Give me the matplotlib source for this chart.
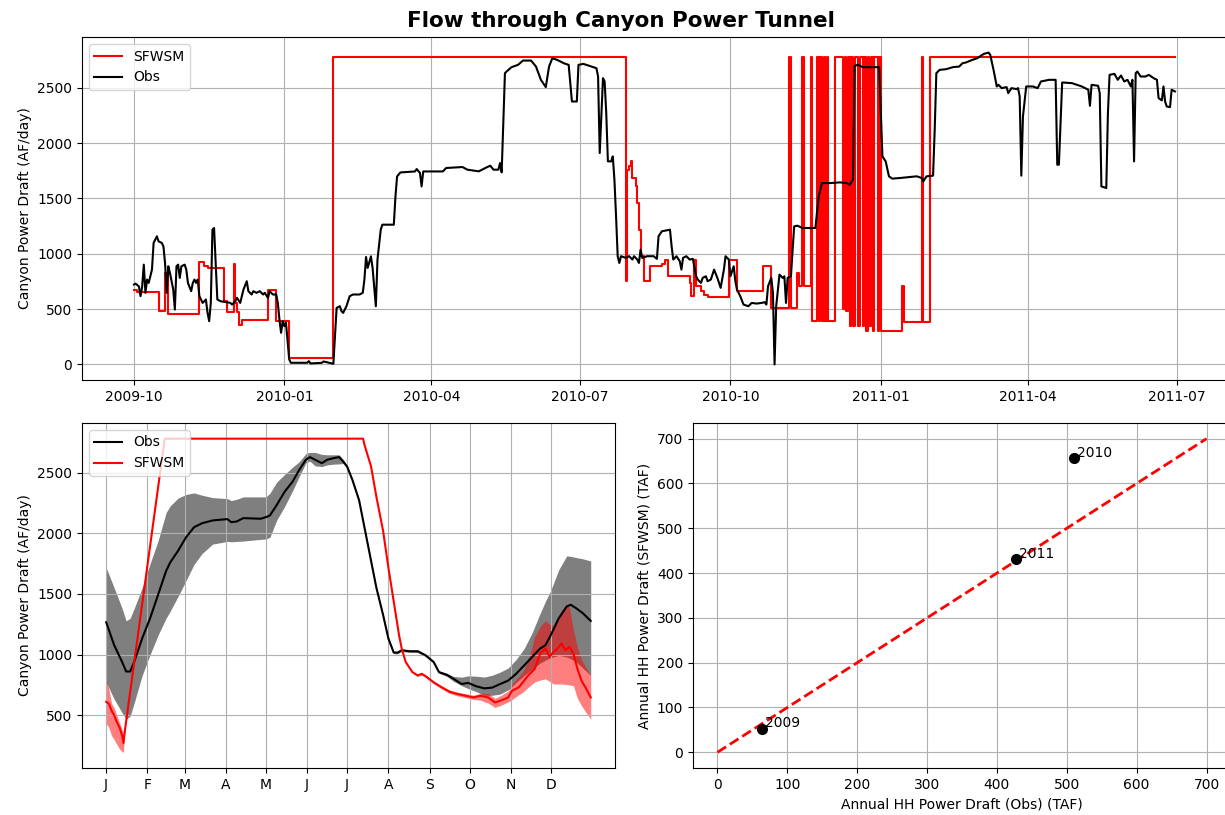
import pandas as pd
import matplotlib
matplotlib.use("Agg")
import matplotlib.pyplot as plt
import matplotlib.dates as mdates
from matplotlib.ticker import FuncFormatter

START = "2009-10-01"

# observed daily flow, day offsets counted from START
obs_day = [0, 1, 3, 4, 5, 6, 7, 8, 9, 10, 11, 12, 14, 15, 17, 18, 19, 20, 21, 22, 24, 25, 26, 27,
           28, 29, 31, 32, 33, 35, 36, 37, 38, 39, 40, 42, 44, 45, 46, 47, 48, 49, 50, 51, 53, 57,
           59, 60, 62, 63, 65, 67, 69, 70, 72, 73, 75, 77, 79, 80, 82, 83, 85, 87, 88, 89, 90, 91,
           92, 93, 94, 95, 96, 106, 107, 108, 115, 116, 122, 124, 126, 127, 128, 130, 132, 134,
           138, 140, 141, 142, 143, 145, 146, 148, 149, 151, 152, 159, 160, 161, 163, 172, 173,
           175, 176, 177, 189, 191, 201, 204, 207, 211, 215, 218, 220, 223, 224, 225, 227, 228,
           231, 235, 238, 243, 246, 249, 252, 254, 256, 259, 263, 266, 268, 271, 272, 275, 280,
           283, 284, 285, 287, 288, 289, 290, 292, 293, 294, 295, 296, 297, 298, 301, 303, 305,
           306, 308, 309, 310, 311, 314, 318, 320, 321, 323, 328, 329, 330, 332, 334, 335, 336,
           338, 340, 342, 344, 345, 347, 348, 350, 351, 353, 355, 357, 359, 361, 362, 364, 365,
           367, 368, 369, 371, 373, 376, 378, 381, 384, 386, 387, 388, 390, 391, 392, 393, 395,
           397, 398, 399, 400, 402, 404, 406, 409, 413, 417, 419, 421, 426, 432, 436, 438, 440,
           441, 443, 446, 451, 456, 457, 458, 460, 462, 464, 469, 475, 479, 482, 483, 485, 489,
           490, 491, 493, 497, 501, 505, 507, 509, 513, 516, 520, 523, 524, 526, 528, 529, 531,
           534, 535, 537, 540, 541, 542, 543, 544, 546, 550, 553, 555, 560, 564, 565, 566, 568,
           574, 580, 584, 585, 586, 590, 591, 592, 595, 596, 597, 600, 602, 604, 606, 608, 610,
           611, 612, 613, 614, 616, 619, 621, 624, 626, 627, 629, 630, 631, 632, 634, 635, 637]
obs_flow = [722, 730, 705, 617, 705, 902, 647, 767, 737, 797, 857, 1098, 1158, 1113, 1098, 1068,
            917, 647, 887, 827, 677, 496, 887, 902, 782, 887, 902, 857, 737, 662, 737, 767, 737,
            767, 617, 556, 587, 466, 391, 556, 1218, 1233, 917, 587, 571, 562, 556, 541, 571, 602,
            556, 677, 752, 662, 632, 662, 647, 662, 632, 647, 602, 662, 632, 632, 556, 406, 286,
            391, 346, 376, 211, 45, 15, 15, 30, 9, 15, 27, 6, 511, 526, 481, 466, 526, 617, 632,
            632, 647, 767, 971, 872, 977, 872, 526, 947, 1218, 1263, 1263, 1518, 1699, 1735, 1744,
            1766, 1730, 1609, 1744, 1744, 1775, 1784, 1760, 1754, 1745, 1775, 1796, 1760, 1760,
            1820, 1736, 2632, 2647, 2686, 2707, 2746, 2746, 2692, 2572, 2506, 2692, 2767, 2752,
            2722, 2707, 2376, 2376, 2707, 2716, 2692, 2677, 2602, 1910, 2587, 2557, 2271, 1835,
            1835, 1880, 1669, 1339, 978, 917, 978, 963, 978, 948, 978, 948, 917, 1038, 963, 978,
            978, 954, 1158, 1203, 1218, 1068, 948, 978, 932, 857, 963, 978, 948, 954, 797, 767,
            737, 782, 797, 752, 767, 857, 782, 692, 857, 978, 948, 797, 887, 752, 677, 617, 541,
            526, 556, 550, 556, 562, 541, 707, 782, 647, 0, 526, 812, 782, 797, 556, 782, 797,
            1248, 1254, 1233, 1233, 1233, 1519, 1639, 1639, 1645, 1639, 1624, 1669, 2698, 2707,
            2686, 2686, 2686, 2271, 1880, 1835, 1700, 1679, 1685, 1694, 1700, 1685, 1654, 1700,
            1706, 2121, 2632, 2662, 2668, 2686, 2692, 2722, 2728, 2752, 2767, 2806, 2818, 2797,
            2662, 2512, 2527, 2497, 2506, 2452, 2497, 2488, 2497, 2422, 1706, 2241, 2512, 2512,
            2497, 2557, 2572, 2572, 1805, 1805, 2548, 2542, 2512, 2482, 2337, 2527, 2518, 2452,
            1609, 1594, 2271, 2617, 2626, 2572, 2611, 2557, 2572, 2512, 2572, 1835, 2632, 2647,
            2602, 2602, 2617, 2587, 2572, 2407, 2386, 2512, 2376, 2331, 2325, 2482, 2467]

# model release, each value holds until the next change
sfwsm_day = [0, 2, 15, 19, 21, 40, 43, 45, 55, 57, 61, 62, 63, 64, 66, 82, 87, 95, 122, 301, 302,
             303, 304, 305, 307, 308, 309, 310, 312, 316, 323, 325, 327, 340, 341, 343, 344, 347,
             349, 351, 364, 369, 385, 390, 401, 402, 406, 407, 409, 410, 414, 415, 418, 419, 420,
             421, 422, 423, 424, 425, 429, 434, 435, 436, 437, 438, 439, 440, 441, 443, 444, 446,
             447, 448, 449, 450, 451, 452, 453, 455, 456, 457, 470, 471, 482, 483, 487, 637]
sfwsm_flow = [670, 655, 481, 830, 457, 923, 890, 872, 571, 472, 908, 556, 472, 352, 406, 677, 391,
              60, 2782, 752, 1760, 1790, 1835, 1685, 1609, 1459, 1218, 978, 752, 890, 905, 940,
              797, 737, 617, 940, 710, 662, 632, 611, 948, 662, 887, 511, 2782, 511, 827, 707,
              2782, 707, 2782, 391, 2782, 391, 2782, 391, 2782, 391, 2782, 391, 2782, 500, 2782,
              481, 2782, 346, 2782, 346, 2782, 346, 2782, 346, 2782, 301, 2782, 346, 2782, 301,
              2782, 301, 2782, 301, 707, 382, 2782, 382, 2782, 2782]

# day-of-year climatology: mean with min/max envelope
clim_obs_day = [0, 6, 12, 15, 18, 21, 27, 33, 39, 45, 48, 54, 60, 66, 72, 80, 91, 94, 98, 103, 116,
                120, 123, 128, 134, 140, 145, 150, 153, 157, 162, 166, 171, 175, 178, 181, 185,
                190, 194, 199, 203, 208, 212, 216, 219, 222, 228, 234, 240, 246, 250, 256, 261,
                267, 272, 278, 284, 290, 296, 302, 308, 314, 320, 326, 330, 334, 340, 346, 349,
                353, 358, 364]
clim_obs_mean = [1267, 1078, 939, 861, 861, 939, 1133, 1300, 1494, 1689, 1758, 1856, 1967, 2050,
                 2083, 2106, 2117, 2092, 2097, 2125, 2120, 2133, 2147, 2231, 2342, 2425, 2522,
                 2606, 2628, 2606, 2578, 2606, 2620, 2628, 2592, 2550, 2439, 2272, 2050, 1772,
                 1550, 1328, 1133, 1017, 1017, 1036, 1028, 1028, 994, 939, 856, 833, 800, 758,
                 767, 739, 722, 728, 758, 786, 842, 911, 981, 1050, 1078, 1161, 1300, 1397, 1411,
                 1383, 1342, 1278]
clim_obs_lo = [772, 633, 520, 467, 494, 600, 828, 1000, 1161, 1300, 1356, 1480, 1610, 1744, 1833,
               1911, 1933, 1930, 1933, 1936, 1950, 1953, 1967, 2106, 2220, 2350, 2467, 2580, 2595,
               2556, 2550, 2564, 2570, 2572, 2575, 2540, 2429, 2262, 2040, 1762, 1540, 1318, 1123,
               1007, 1007, 1026, 1018, 1018, 984, 929, 846, 820, 780, 744, 720, 695, 665, 665, 675,
               710, 770, 828, 880, 930, 955, 975, 994, 980, 965, 940, 890, 828]
clim_obs_hi = [1717, 1550, 1380, 1278, 1300, 1380, 1550, 1750, 1939, 2170, 2225, 2290, 2320, 2333,
               2314, 2294, 2286, 2270, 2280, 2300, 2300, 2300, 2330, 2420, 2485, 2545, 2590, 2656,
               2667, 2667, 2650, 2647, 2647, 2647, 2610, 2560, 2449, 2282, 2060, 1782, 1560, 1338,
               1143, 1027, 1027, 1046, 1038, 1038, 1004, 949, 866, 846, 820, 814, 825, 822, 815,
               830, 856, 890, 960, 1050, 1180, 1340, 1440, 1530, 1700, 1814, 1810, 1800, 1790, 1772]

clim_sfwsm_day = [0, 2, 4, 6, 8, 10, 12, 13, 14, 44, 193, 194, 199, 203, 208, 212, 216, 220, 222,
                  225, 230, 234, 237, 240, 246, 252, 258, 264, 270, 276, 281, 287, 292, 296, 302,
                  305, 310, 313, 317, 322, 326, 330, 333, 336, 339, 342, 345, 348, 351, 354, 357,
                  360, 364]
clim_sfwsm_mean = [611, 597, 540, 500, 445, 400, 334, 272, 370, 2780, 2780, 2731, 2550, 2300, 2022,
                   1717, 1439, 1161, 1050, 939, 856, 828, 842, 822, 772, 731, 694, 675, 661, 647,
                   661, 647, 606, 619, 647, 703, 731, 772, 828, 883, 1008, 1050, 981, 1022, 1050,
                   1092, 1036, 1064, 1008, 883, 786, 731, 647]
clim_sfwsm_lo = [431, 400, 334, 300, 260, 223, 200, 195, 361, 2780, 2780, 2731, 2550, 2300, 2022,
                 1717, 1439, 1161, 1050, 935, 850, 820, 832, 812, 760, 718, 680, 660, 645, 630, 625,
                 600, 565, 580, 610, 630, 670, 690, 730, 775, 790, 800, 780, 758, 758, 758, 755,
                 750, 744, 640, 580, 530, 467]
clim_sfwsm_hi = [791, 720, 600, 560, 500, 440, 380, 350, 380, 2780, 2780, 2731, 2550, 2300, 2022,
                 1717, 1439, 1161, 1050, 945, 862, 836, 850, 832, 782, 742, 708, 690, 678, 665, 680,
                 680, 640, 660, 700, 760, 820, 860, 950, 1150, 1230, 1280, 1250, 1240, 1300, 1350,
                 1410, 1390, 1200, 1060, 960, 900, 828]

# annual totals (TAF)
years = [2009, 2010, 2011]
annual_obs = [64, 510, 428]
annual_sfwsm = [53, 657, 431]
one_to_one = [0, 700]

CLIM_YEAR = "2001-01-01"


def to_dates(days, start):
    return pd.Timestamp(start) + pd.to_timedelta(days, unit="D")


fig = plt.figure(figsize=(12.25, 8.15), dpi=100)
fig.suptitle("Flow through Canyon Power Tunnel", x=0.507, y=0.986,
             fontsize=15.5, fontweight="bold")

# --- full time series ---
ax_ts = fig.add_axes([0.0669, 0.5337, 0.9347, 0.4209])
ax_ts.plot(to_dates(sfwsm_day, START), sfwsm_flow, color="r", drawstyle="steps-post", label="SFWSM")
ax_ts.plot(to_dates(obs_day, START), obs_flow, color="k", label="Obs")
ax_ts.xaxis.set_major_locator(mdates.MonthLocator(bymonth=[1, 4, 7, 10]))
ax_ts.xaxis.set_major_formatter(mdates.DateFormatter("%Y-%m"))
ax_ts.set_ylabel("Canyon Power Draft (AF/day)")
ax_ts.grid(True)
ax_ts.legend(loc="upper left")

# --- seasonal climatology ---
ax_cl = fig.add_axes([0.0669, 0.0577, 0.4351, 0.4233])
obs_dates = to_dates(clim_obs_day, CLIM_YEAR)
mod_dates = to_dates(clim_sfwsm_day, CLIM_YEAR)
ax_cl.fill_between(obs_dates, clim_obs_lo, clim_obs_hi, color="k", alpha=0.5, lw=0)
ax_cl.fill_between(mod_dates, clim_sfwsm_lo, clim_sfwsm_hi, color="r", alpha=0.5, lw=0)
ax_cl.plot(obs_dates, clim_obs_mean, color="k", label="Obs")
ax_cl.plot(mod_dates, clim_sfwsm_mean, color="r", label="SFWSM")
ax_cl.set_xticks(pd.date_range(CLIM_YEAR, periods=12, freq="MS"))
ax_cl.xaxis.set_major_formatter(FuncFormatter(lambda x, pos: mdates.num2date(x).strftime("%b")[0]))
ax_cl.set_ylabel("Canyon Power Draft (AF/day)")
ax_cl.grid(True)
ax_cl.legend(loc="upper left")

# --- annual totals ---
ax_sc = fig.add_axes([0.5657, 0.0577, 0.4392, 0.4233])
ax_sc.plot(one_to_one, one_to_one, "r--", lw=2)
ax_sc.plot(annual_obs, annual_sfwsm, "ko", ms=7)
for yr, xo, ym in zip(years, annual_obs, annual_sfwsm):
    ax_sc.annotate(str(yr), (xo, ym), xytext=(2, 1), textcoords="offset points")
ax_sc.set_xlabel("Annual HH Power Draft (Obs) (TAF)")
ax_sc.set_ylabel("Annual HH Power Draft (SFWSM) (TAF)")
ax_sc.grid(True)

fig.savefig("out.png", dpi=100)
